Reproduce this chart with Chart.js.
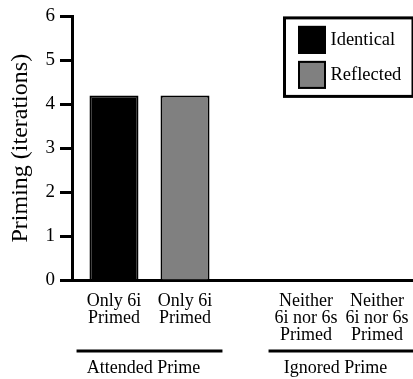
<!DOCTYPE html>
<html>
<head>
<meta charset="utf-8">
<script src="https://cdn.jsdelivr.net/npm/chart.js@4"></script>
<style>
  html, body { margin: 0; padding: 0; overflow: hidden; background: #fff; }
  /* the original figure is cropped on the right, so the canvas runs past the window */
  #wrap { width: 440px; height: 379px; }
</style>
</head>
<body>
<div id="wrap"><canvas id="chart"></canvas></div>
<script>
const groups = ['Attended Prime', 'Ignored Prime'];
const seriesNames = ['Identical', 'Reflected'];
const identical = [4.2, 0];
const reflected = [4.2, 0];
const conditions = [['Only 6i', 'Primed'], ['Neither', '6i nor 6s', 'Primed']];
const yTicks = [0, 1, 2, 3, 4, 5, 6];

Chart.defaults.font.family = '"Liberation Serif", "Times New Roman", serif';
Chart.defaults.color = '#000';

// the first group sits closer to the y axis than a plain category scale puts it
const axisGap = 18.5;
const groupShift = {
  id: 'groupShift',
  afterLayout(chart) {
    const x = chart.scales.x;
    x._startPixel -= axisGap;
    x._length += axisGap;
  }
};

const extras = {
  id: 'extras',
  afterDraw(chart) {
    const ctx = chart.ctx;
    const x = chart.scales.x;
    const area = chart.chartArea;
    ctx.save();
    ctx.fillStyle = '#000';
    ctx.strokeStyle = '#000';

    // condition labels under each bar
    ctx.font = '18px "Liberation Serif", serif';
    ctx.textAlign = 'center';
    ctx.textBaseline = 'alphabetic';
    chart.data.datasets.forEach((ds, di) => {
      chart.getDatasetMeta(di).data.forEach((bar, gi) => {
        conditions[gi].forEach((line, li) => {
          ctx.fillText(line, bar.x, x.top + 26 + li * 17);
        });
      });
    });

    // rule above each group name
    const half = 0.38 * (x.getPixelForValue(1) - x.getPixelForValue(0));
    ctx.lineWidth = 3;
    groups.forEach((g, gi) => {
      const cx = x.getPixelForValue(gi);
      ctx.beginPath();
      ctx.moveTo(cx - half, x.top + 71);
      ctx.lineTo(cx + half, x.top + 71);
      ctx.stroke();
    });

    // legend box
    const lx = 284.5, ly = area.top + 1.5;
    ctx.lineWidth = 3;
    ctx.strokeRect(lx, ly, 128.5, 78.5);
    ctx.font = '18.5px "Liberation Serif", serif';
    ctx.textAlign = 'left';
    ctx.textBaseline = 'middle';
    chart.data.datasets.forEach((ds, di) => {
      const by = ly + 8 + di * 35;
      ctx.fillStyle = ds.backgroundColor;
      ctx.fillRect(lx + 13.5, by, 28, 28);
      ctx.lineWidth = 2;
      ctx.strokeRect(lx + 14.5, by + 1, 26, 26);
      ctx.fillStyle = '#000';
      ctx.fillText(ds.label, lx + 46, by + 14);
    });
    ctx.restore();
  }
};

new Chart(document.getElementById('chart'), {
  type: 'bar',
  data: {
    labels: groups,
    datasets: [
      {
        label: seriesNames[0],
        data: identical,
        backgroundColor: '#000000',
        borderColor: '#000000',
        borderWidth: 2
      },
      {
        label: seriesNames[1],
        data: reflected,
        backgroundColor: '#808080',
        borderColor: '#000000',
        borderWidth: 2
      }
    ]
  },
  options: {
    responsive: true,
    maintainAspectRatio: false,
    devicePixelRatio: 1,
    animation: false,
    events: [],
    categoryPercentage: 0.74,
    barPercentage: 0.69,
    layout: { padding: { top: 14, right: 2.5, left: 0, bottom: 0 } },
    plugins: {
      legend: { display: false },
      tooltip: { enabled: false }
    },
    scales: {
      x: {
        afterFit: s => {
          s.height = 99;
          s.paddingLeft = 0;
          s.paddingRight = 0;
        },
        border: { display: true, color: '#000', width: 3 },
        grid: { display: false, drawTicks: false },
        ticks: { color: '#000', font: { size: 18 }, padding: 77, labelOffset: -6, maxRotation: 0, autoSkip: false }
      },
      y: {
        min: yTicks[0],
        max: yTicks[yTicks.length - 1],
        afterBuildTicks: s => { s.ticks = yTicks.map(v => ({ value: v })); },
        afterFit: s => { s.width = 72; },
        border: { display: true, color: '#000', width: 3 },
        grid: { drawOnChartArea: false, color: '#000', tickLength: 12, tickWidth: 3, tickColor: '#000' },
        ticks: { color: '#000', font: { size: 19 }, padding: 5 },
        title: {
          display: true,
          text: 'Priming (iterations)',
          color: '#000',
          font: { size: 24 },
          padding: { top: 6 }
        }
      }
    }
  },
  plugins: [groupShift, extras]
});
</script>
</body>
</html>
